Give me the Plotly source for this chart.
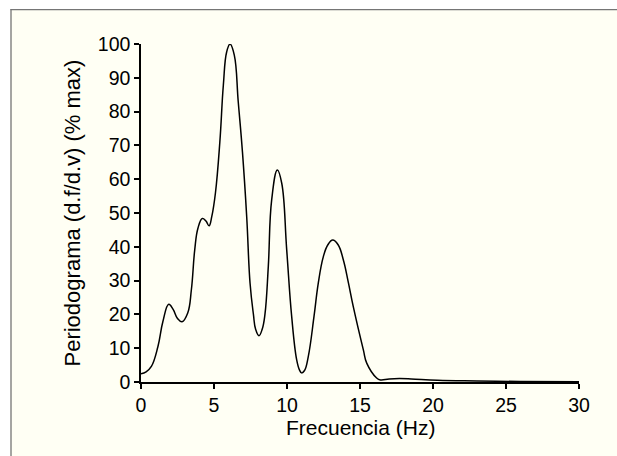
import plotly.graph_objects as go

# Frequency (Hz) and periodogram (% of max)
freq = [0, 0.35, 0.71, 1.16, 1.5, 1.9, 2.2, 2.5, 2.81, 3.2, 3.45, 3.68, 3.9, 4.2,
        4.45, 4.66, 4.85, 5.1, 5.4, 5.64, 5.87, 6.1, 6.39, 6.66, 6.95, 7.24, 7.47,
        7.7, 7.85, 8.08, 8.3, 8.49, 8.72, 8.95, 9.34, 9.64, 9.98, 10.32, 10.66, 10.85,
        11.0, 11.2, 11.46, 11.85, 12.14, 12.49, 12.8, 13.13, 13.5, 13.86, 14.2, 14.54,
        15.23, 15.46, 16.14, 16.4, 17.0, 17.7, 18.5, 20.3, 23, 26, 30]
power = [2.4, 3.0, 4.6, 10.5, 17.9, 23.0, 21.5, 18.8, 17.8, 20.4, 27.3, 39.1, 45.5, 48.4,
         47.6, 46.2, 49.0, 56.0, 71.0, 87.8, 97.7, 100.0, 96.7, 82.9, 68.0, 48.9, 29.2,
         20.0, 15.6, 13.7, 15.6, 20.0, 34.2, 53.9, 62.7, 58.8, 39.1, 19.4, 6.6, 3.6,
         2.7, 3.4, 7.6, 19.4, 29.2, 37.1, 40.6, 42.0, 40.6, 36.1, 29.5, 22.3,
         9.5, 5.6, 1.2, 0.6, 0.9, 1.0, 0.9, 0.5, 0.3, 0.15, 0.05]

x_ticks = [0, 5, 10, 15, 20, 25, 30]
y_ticks = [0, 10, 20, 30, 40, 50, 60, 70, 80, 90, 100]

x_title = "Frecuencia (Hz)"
y_title = "Periodograma (d.f/d.v) (% max)"

FONT = "Liberation Sans, Arial, Helvetica, sans-serif"
BG = "#fffff4"

fig = go.Figure()
fig.add_trace(go.Scatter(
    x=freq, y=power, mode="lines",
    line=dict(color="black", width=1.5, shape="spline", smoothing=1.2),
    hoverinfo="skip", showlegend=False,
))

L, R, T, B = 141, 38, 43.5, 73.7
W, H = 617, 456
pw = W - L - R
ph = H - T - B

def px_to_paper_x(px):
    return (px - L) / pw

def px_to_paper_y(py):
    return (H - B - py) / ph

axis_common = dict(
    showgrid=False, zeroline=False, showline=True, linecolor="black", linewidth=1.5,
    ticks="outside", ticklen=5, tickwidth=1.5, tickcolor="black",
    tickfont=dict(family=FONT, size=19.5, color="black"),
)

x_left, x_right = px_to_paper_x(-5), px_to_paper_x(W + 5)
y_top, y_bot = px_to_paper_y(-5), px_to_paper_y(H + 5)

fig.update_layout(
    width=W, height=H,
    margin=dict(l=L, r=R, t=T, b=B, pad=0),
    paper_bgcolor=BG,
    plot_bgcolor="rgba(0,0,0,0)",
    xaxis=dict(range=[0, 30], tickvals=x_ticks, **axis_common),
    yaxis=dict(range=[0, 100], tickvals=y_ticks, **axis_common),
    shapes=[
        # ivory fill inside the frame (extends past the right/bottom edges)
        dict(type="rect", xref="paper", yref="paper", layer="below",
             x0=px_to_paper_x(11), x1=x_right, y0=y_bot, y1=px_to_paper_y(9),
             fillcolor=BG, line=dict(width=0)),
        # white margins outside the frame (top and left)
        dict(type="rect", xref="paper", yref="paper", layer="below",
             x0=x_left, x1=x_right, y0=px_to_paper_y(8.5), y1=y_top,
             fillcolor="white", line=dict(width=0)),
        dict(type="rect", xref="paper", yref="paper", layer="below",
             x0=x_left, x1=px_to_paper_x(10.5), y0=y_bot, y1=y_top,
             fillcolor="white", line=dict(width=0)),
        # frame lines
        dict(type="line", xref="paper", yref="paper", layer="below",
             x0=px_to_paper_x(10.5), x1=x_right,
             y0=px_to_paper_y(9), y1=px_to_paper_y(9),
             line=dict(color="#757575", width=1.3)),
        dict(type="line", xref="paper", yref="paper", layer="below",
             x0=px_to_paper_x(11), x1=px_to_paper_x(11),
             y0=px_to_paper_y(8.5), y1=y_bot,
             line=dict(color="#757575", width=1.3)),
    ],
    annotations=[
        dict(text=x_title, xref="paper", yref="paper",
             x=px_to_paper_x(360.8), y=px_to_paper_y(428),
             xanchor="center", yanchor="middle", showarrow=False,
             font=dict(family=FONT, size=21, color="black")),
        dict(text=y_title, xref="paper", yref="paper",
             x=px_to_paper_x(72), y=px_to_paper_y(213.4),
             xanchor="center", yanchor="middle", showarrow=False, textangle=-90,
             font=dict(family=FONT, size=22, color="black")),
    ],
)

fig.write_html(
    "out.html",
    config={"displayModeBar": False},
    post_script=(
        "document.documentElement.style.margin='0';"
        "document.documentElement.style.overflow='hidden';"
        "document.body.style.margin='0';"
        "document.body.style.overflow='hidden';"
    ),
)
